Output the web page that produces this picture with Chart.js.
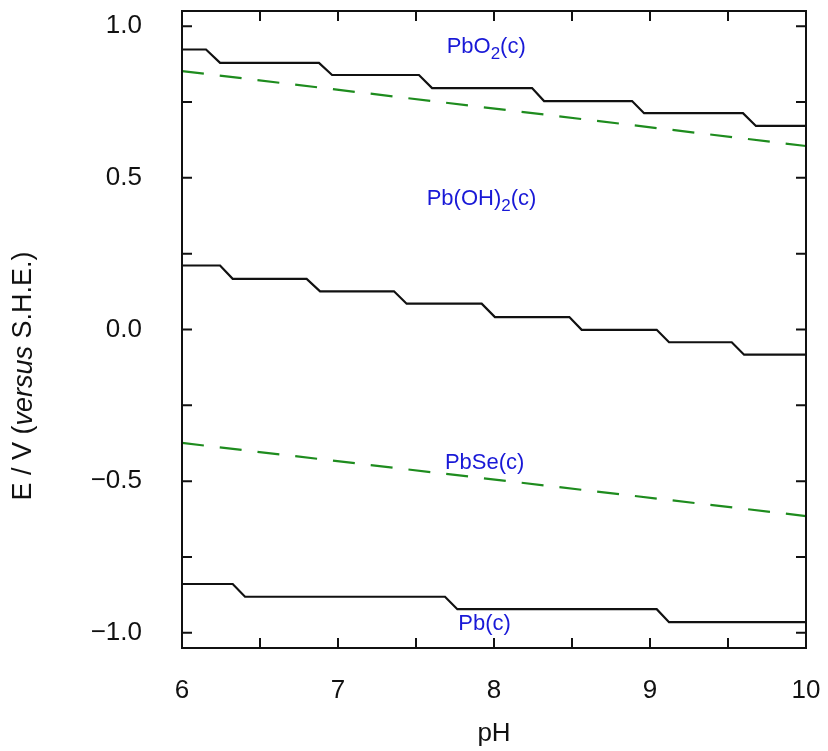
<!DOCTYPE html>
<html>
<head>
<meta charset="utf-8">
<script src="https://cdn.jsdelivr.net/npm/chart.js@4"></script>
<style>
  html, body { margin: 0; padding: 0; background: #fff; }
  #wrap { width: 828px; height: 751px; }
</style>
</head>
<body>
<div id="wrap"><canvas id="chart"></canvas></div>
<script>
// ticks
const xTicks = [6, 6.5, 7, 7.5, 8, 8.5, 9, 9.5, 10];
const yTicks = [-1.0, -0.75, -0.5, -0.25, 0, 0.25, 0.5, 0.75, 1.0];

// PbO2 / Pb(OH)2 boundary
const upperPH = [6, 6.154, 6.244, 6.878, 6.962, 7.519, 7.603, 8.244, 8.321, 8.885, 8.962, 9.596, 9.679, 10];
const upperE = [0.923, 0.923, 0.879, 0.879, 0.839, 0.839, 0.796, 0.796, 0.753, 0.753, 0.713, 0.713, 0.671, 0.671];

// Pb(OH)2 / PbSe boundary
const middlePH = [6, 6.244, 6.325, 6.799, 6.885, 7.359, 7.440, 7.921, 8.006, 8.483, 8.562, 9.043, 9.122, 9.524, 9.603, 10];
const middleE = [0.211, 0.211, 0.167, 0.167, 0.126, 0.126, 0.085, 0.085, 0.041, 0.041, -0.001, -0.001, -0.042, -0.042, -0.083, -0.083];

// PbSe / Pb boundary
const lowerPH = [6, 6.325, 6.404, 7.686, 7.765, 9.043, 9.122, 10];
const lowerE = [-0.839, -0.839, -0.881, -0.881, -0.922, -0.922, -0.965, -0.965];

// water stability lines (dashed)
const waterPH = [6, 10];
const oxygenE = [0.852, 0.605];
const hydrogenE = [-0.374, -0.615];

// region names: [text before subscript, subscript, text after, pH, E]
const regionNames = [
  ["PbO", "2", "(c)", 7.95, 0.93],
  ["Pb(OH)", "2", "(c)", 7.92, 0.43],
  ["PbSe(c)", "", "", 7.94, -0.44],
  ["Pb(c)", "", "", 7.94, -0.97]
];

const FONT = "'Liberation Sans', Arial, sans-serif";

function pts(xs, ys) {
  return xs.map((x, i) => ({ x: x, y: ys[i] }));
}

function solid(xs, ys) {
  return { data: pts(xs, ys), borderColor: "#111", borderWidth: 2.2, pointRadius: 0, tension: 0 };
}
function dashed(xs, ys) {
  return { data: pts(xs, ys), borderColor: "rgb(30,140,30)", borderWidth: 2.2, borderDash: [22, 16], pointRadius: 0, tension: 0 };
}

const frame = {
  id: "frame",
  afterDatasetsDraw(chart) {
    const ctx = chart.ctx;
    const a = chart.chartArea;
    const xs = chart.scales.x, ys = chart.scales.y;
    ctx.save();
    ctx.strokeStyle = "#111";
    ctx.lineWidth = 2;
    ctx.strokeRect(a.left, a.top, a.right - a.left, a.bottom - a.top);
    // inward ticks on all sides
    const t = 10;
    ctx.beginPath();
    xTicks.forEach(v => {
      const px = xs.getPixelForValue(v);
      ctx.moveTo(px, a.bottom); ctx.lineTo(px, a.bottom - t);
      ctx.moveTo(px, a.top); ctx.lineTo(px, a.top + t);
    });
    yTicks.forEach(v => {
      const py = ys.getPixelForValue(v);
      ctx.moveTo(a.left, py); ctx.lineTo(a.left + t, py);
      ctx.moveTo(a.right, py); ctx.lineTo(a.right - t, py);
    });
    ctx.stroke();

    // region names with subscripts
    ctx.fillStyle = "rgb(25,25,215)";
    ctx.textBaseline = "middle";
    ctx.textAlign = "left";
    regionNames.forEach(r => {
      const big = "22px " + FONT, small = "17px " + FONT;
      ctx.font = big;
      const w1 = ctx.measureText(r[0]).width, w3 = ctx.measureText(r[2]).width;
      ctx.font = small;
      const w2 = ctx.measureText(r[1]).width;
      const cx = xs.getPixelForValue(r[3]), cy = ys.getPixelForValue(r[4]);
      let x = cx - (w1 + w2 + w3) / 2;
      ctx.font = big; ctx.fillText(r[0], x, cy); x += w1;
      ctx.font = small; ctx.fillText(r[1], x, cy + 7); x += w2;
      ctx.font = big; ctx.fillText(r[2], x, cy);
    });

    // y axis title with italic word
    ctx.fillStyle = "#111";
    ctx.translate(24, 376);
    ctx.rotate(-Math.PI / 2);
    const parts = [["E / V (", "27px "], ["versus", "italic 27px "], [" S.H.E.)", "27px "]];
    let total = 0;
    parts.forEach(p => { ctx.font = p[1] + FONT; total += ctx.measureText(p[0]).width; });
    let x = -total / 2;
    parts.forEach(p => { ctx.font = p[1] + FONT; ctx.fillText(p[0], x, 0); x += ctx.measureText(p[0]).width; });
    ctx.restore();
  }
};

const config = {
  type: "line",
  data: {
    datasets: [
      solid(upperPH, upperE),
      solid(middlePH, middleE),
      solid(lowerPH, lowerE),
      dashed(waterPH, oxygenE),
      dashed(waterPH, hydrogenE)
    ]
  },
  options: {
    responsive: true,
    maintainAspectRatio: false,
    animation: false,
    layout: { autoPadding: false, padding: { top: 11, right: 22, left: 0, bottom: 0 } },
    plugins: { legend: { display: false }, tooltip: { enabled: false } },
    scales: {
      x: {
        type: "linear",
        min: 6, max: 10,
        afterBuildTicks: s => { s.ticks = xTicks.map(v => ({ value: v })); },
        afterFit: s => { s.height = 103; s.paddingLeft = 0; s.paddingRight = 0; },
        grid: { display: false, drawTicks: false },
        border: { display: false },
        ticks: {
          padding: 27,
          color: "#111",
          font: { family: FONT, size: 26 },
          maxRotation: 0,
          autoSkip: false,
          callback: v => (Number.isInteger(v) ? String(v) : "")
        },
        title: { display: true, text: "pH", color: "#111", font: { family: FONT, size: 26 }, padding: { top: 0, bottom: 2 } }
      },
      y: {
        type: "linear",
        min: -1.05, max: 1.05,
        afterBuildTicks: s => { s.ticks = yTicks.map(v => ({ value: v })); },
        afterFit: s => { s.width = 182; s.paddingTop = 0; s.paddingBottom = 0; },
        grid: { display: false, drawTicks: false },
        border: { display: false },
        ticks: {
          padding: 40,
          color: "#111",
          font: { family: FONT, size: 26 },
          autoSkip: false,
          callback: v => (Math.abs(v * 2 - Math.round(v * 2)) < 1e-9 ? (v < 0 ? "\u2212" : "") + Math.abs(v).toFixed(1) : "")
        }
      }
    }
  },
  plugins: [frame]
};

const myChart = new Chart(document.getElementById("chart"), config);
</script>
</body>
</html>
